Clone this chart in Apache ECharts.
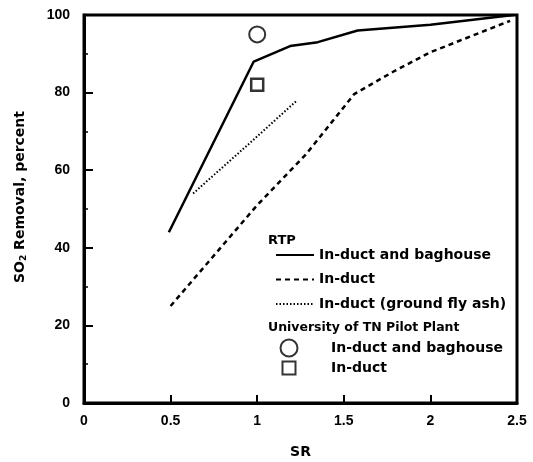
<!DOCTYPE html>
<html>
<head>
<meta charset="utf-8">
<script src="https://cdn.jsdelivr.net/npm/echarts@6/dist/echarts.min.js"></script>
<style>
html,body{margin:0;padding:0;background:#fff;}
#chart{width:533px;height:462px;}
</style>
</head>
<body>
<div id="chart"></div>
<script>
// RTP: In-duct and baghouse (solid)
const srBaghouse = [0.49, 0.98, 1.19, 1.35, 1.58, 2.0, 2.48];
const so2Baghouse = [44, 88, 92, 93, 96, 97.5, 100];
// RTP: In-duct (dashed)
const srInduct = [0.5, 1.0, 1.28, 1.56, 1.79, 2.0, 2.46];
const so2Induct = [25, 51, 64, 79.6, 85.5, 90.4, 98.5];
// RTP: In-duct (ground fly ash) (dotted)
const srFlyAsh = [0.63, 0.97, 1.23];
const so2FlyAsh = [54, 67.5, 78];
// University of TN Pilot Plant
const srUTBaghouse = [1.0];
const so2UTBaghouse = [95];
const srUTInduct = [1.0];
const so2UTInduct = [82];

const xTicks = [0, 0.5, 1, 1.5, 2, 2.5];
const yTicks = [0, 20, 40, 60, 80, 100];

const pairs = (xs, ys) => xs.map((x, i) => [x, ys[i]]);

const tickFont = {fontFamily: 'Liberation Sans', fontWeight: 'bold', fontSize: 14, color: '#000'};
const legFont = {fontFamily: 'DejaVu Sans', fontWeight: 'bold', fontSize: 14, color: '#000'};

const chart = echarts.init(document.getElementById('chart'), null, {renderer: 'canvas'});
chart.setOption({
  backgroundColor: '#fff',
  animation: false,
  grid: {left: 84, right: 16, top: 15, bottom: 59, show: true, borderColor: '#000', borderWidth: 3, outerBoundsMode: 'none'},
  xAxis: {
    type: 'value', min: xTicks[0], max: xTicks[xTicks.length - 1], interval: 0.5,
    name: 'SR', nameLocation: 'middle', nameGap: 42,
    nameTextStyle: {fontFamily: 'DejaVu Sans', fontWeight: 'bold', fontSize: 14, color: '#000'},
    axisLine: {lineStyle: {color: '#000', width: 3}},
    axisTick: {inside: true, length: 8, lineStyle: {color: '#000', width: 2}},
    axisLabel: Object.assign({margin: 11}, tickFont),
    splitLine: {show: false}
  },
  yAxis: {
    type: 'value', min: yTicks[0], max: yTicks[yTicks.length - 1], interval: 20,
    name: 'SO{sub|2} Removal, percent', nameLocation: 'middle', nameGap: 56,
    nameTextStyle: {fontFamily: 'DejaVu Sans', fontWeight: 'bold', fontSize: 14, color: '#000',
      padding: [0, 0, 0, 24],
      rich: {sub: {fontFamily: 'DejaVu Sans', fontWeight: 'bold', fontSize: 9, color: '#000', verticalAlign: 'bottom', padding: [6, 0, 0, 0]}}},
    axisLine: {lineStyle: {color: '#000', width: 3}},
    axisTick: {inside: true, length: 9, lineStyle: {color: '#000', width: 2}},
    minorTick: {show: true, splitNumber: 2, length: 4, lineStyle: {color: '#000', width: 1.5}},
    axisLabel: Object.assign({margin: 14}, tickFont),
    splitLine: {show: false}
  },
  legend: [
    {
      orient: 'vertical', left: 275, top: 248, padding: 0, itemWidth: 38, itemHeight: 14, itemGap: 10.5,
      itemStyle: {opacity: 0},
      textStyle: Object.assign({lineHeight: 14}, legFont),
      data: ['In-duct and baghouse', 'In-duct', 'In-duct (ground fly ash)']
    },
    {
      orient: 'vertical', left: 279.5, top: 338.5, padding: 0, itemWidth: 17, itemHeight: 17,
      textStyle: Object.assign({lineHeight: 14, padding: [0, 0, 0, 28.5]}, legFont),
      formatter: n => n.replace('UT ', ''),
      data: ['UT In-duct and baghouse']
    },
    {
      orient: 'vertical', left: 281.5, top: 360.5, padding: 0, itemWidth: 13, itemHeight: 13,
      textStyle: Object.assign({lineHeight: 13, padding: [0, 0, 0, 30.5]}, legFont),
      formatter: n => n.replace('UT ', ''),
      data: ['UT In-duct']
    }
  ],
  graphic: [
    {type: 'text', left: 268, top: 234, style: {text: 'RTP', font: 'bold 13px "DejaVu Sans"', fill: '#000'}},
    {type: 'text', left: 268, top: 321, style: {text: 'University of TN Pilot Plant', font: 'bold 12.5px "DejaVu Sans"', fill: '#000'}}
  ],
  series: [
    {name: 'In-duct and baghouse', type: 'line', symbol: 'none', data: pairs(srBaghouse, so2Baghouse),
      lineStyle: {color: '#000', width: 2.5}, itemStyle: {color: '#000'}},
    {name: 'In-duct', type: 'line', symbol: 'none', data: pairs(srInduct, so2Induct),
      lineStyle: {color: '#000', width: 2.5, type: [5, 4]}, itemStyle: {color: '#000'}},
    {name: 'In-duct (ground fly ash)', type: 'line', symbol: 'none', data: pairs(srFlyAsh, so2FlyAsh),
      lineStyle: {color: '#000', width: 2, type: [1.5, 2]}, itemStyle: {color: '#000'}},
    {name: 'UT In-duct and baghouse', type: 'scatter', symbol: 'circle', symbolSize: 16, data: pairs(srUTBaghouse, so2UTBaghouse),
      itemStyle: {color: '#fff', borderColor: '#000', borderWidth: 2}},
    {name: 'UT In-duct', type: 'scatter', symbol: 'rect', symbolSize: 12, data: pairs(srUTInduct, so2UTInduct),
      itemStyle: {color: '#fff', borderColor: '#000', borderWidth: 2.5}}
  ]
});
</script>
</body>
</html>
